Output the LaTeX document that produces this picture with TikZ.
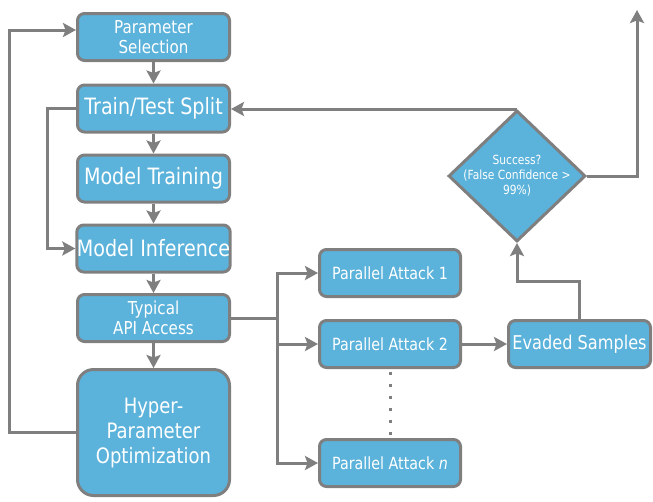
\documentclass[tikz,border=0pt]{standalone}
\usepackage{fontspec}
\setmainfont{DejaVu Sans}[FakeStretch=0.85]
\usetikzlibrary{arrows.meta,shapes.geometric}
\definecolor{boxblue}{HTML}{5BB2DA}
\definecolor{linegray}{HTML}{7F7F7F}
\newcommand{\fs}[2]{\fontsize{#1}{#2}\selectfont}
\begin{document}
\begin{tikzpicture}[x=1pt,y=-1pt,
  box/.style={draw=linegray, line width=3pt, fill=boxblue, rounded corners=7pt,
    text=white, align=center, inner sep=0pt, minimum width=152pt, minimum height=47pt},
  abox/.style={box, minimum width=141pt, minimum height=47pt},
  conn/.style={draw=linegray, line width=3pt, -{Stealth[width=14pt,length=13pt,inset=2.5pt]}},
  plain/.style={draw=linegray, line width=3pt}]
\useasboundingbox (0,0) rectangle (653,501);

\node[box, font=\fs{17.8}{20}] (ps) at (153.5,37) {Parameter\\Selection};
\node[box, font=\fs{22.5}{24}] (tts) at (153.5,108.5) {Train/Test Split};
\node[box, font=\fs{22.5}{24}] (mt) at (153.5,178.5) {Model Training};
\node[box, font=\fs{22.5}{24}] (mi) at (153.5,248.5) {Model Inference};
\node[box, font=\fs{17.8}{20}] (api) at (153.5,318) {Typical\\API Access};
\node[box, font=\fs{21.2}{25}, rounded corners=16pt, minimum height=126pt] (hpo) at (153.5,432.5) {Hyper-\\Parameter\\Optimization};

\node[abox, font=\fs{16.8}{18}] (pa1) at (390,273) {Parallel Attack 1};
\node[abox, font=\fs{16.8}{18}] (pa2) at (390,344) {Parallel Attack 2};
\node[abox, font=\fs{16.8}{18}] (pan) at (390,463) {Parallel Attack \textit{n}};
\node[abox, font=\fs{19}{20}, minimum width=142pt] (es) at (579.5,344) {Evaded Samples};

\node[draw=linegray, line width=3pt, fill=boxblue, shape=diamond, inner sep=0pt,
  minimum width=137pt, minimum height=131pt,
  label={[text=white, align=center, font=\fs{12.6}{15}]center:{Success?\\(False Confidence >\\99\%)}}]
  (dec) at (517,176) {};

% vertical chain
\draw[conn] (ps) -- (tts);
\draw[conn] (tts) -- (mt);
\draw[conn] (mt) -- (mi);
\draw[conn] (mi) -- (api);
\draw[conn] (api) -- (hpo);

% left loops
\coordinate (loopTop) at (76,30);
\draw[conn] (hpo.west) -| (9,30) -- (loopTop);
\draw[conn] (tts.west) -| (47,248.5) -- (mi.west);

% fan out
\coordinate (fan) at (277,318);
\draw[plain] (api.east) -- (fan);
\draw[conn] (fan) |- (pa1.west);
\draw[conn] (fan) |- (pan.west);
\draw[conn] (fan) |- (pa2.west);

% dotted line
\coordinate (dtop) at (390,372);
\coordinate (dbot) at (390,436);
\draw[linegray, line width=3pt, dash pattern=on 3pt off 9pt] (dtop) -- (dbot);

\draw[conn] (pa2) -- (es);
\draw[conn] (es.north) |- (517,281) -- (dec.south);
\draw[conn] (dec.north) -- (dec.north -| tts.east);
\coordinate (outTop) at (637,10);
\draw[conn] (dec.east) -| (outTop);
\end{tikzpicture}
\end{document}
